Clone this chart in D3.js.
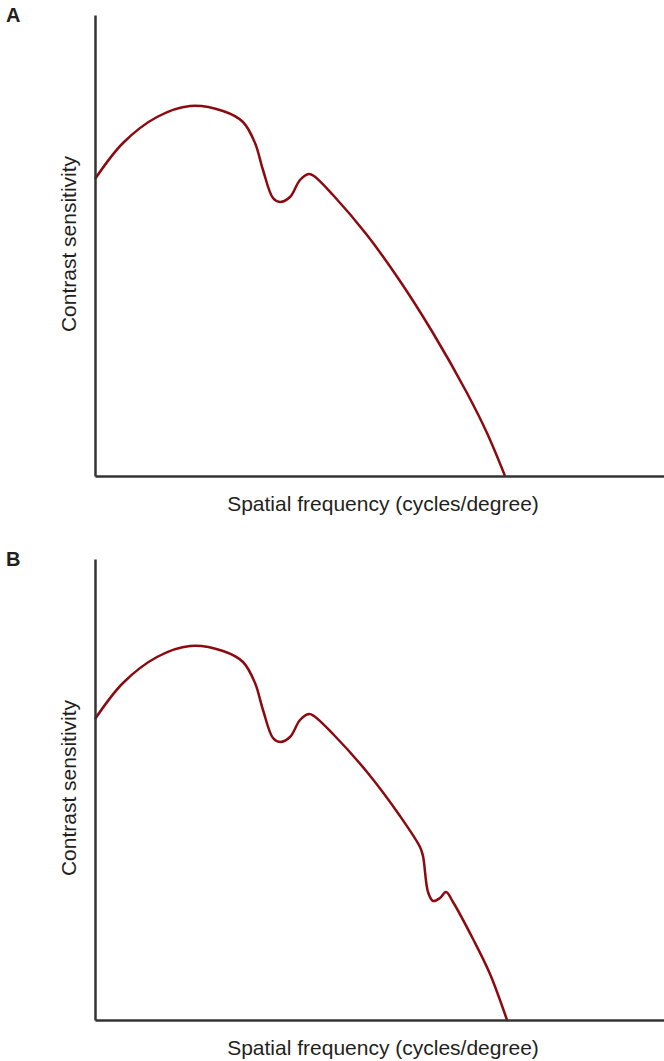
<!DOCTYPE html>
<html>
<head>
<meta charset="utf-8">
<script src="https://cdn.jsdelivr.net/npm/d3@7"></script>
<style>
	body { margin: 0; background: #fff; }
	svg { display: block; }
	text { font-family: "Liberation Sans", Arial, sans-serif; fill: #231f20; }
</style>
</head>
<body>
<svg id="chart" width="664" height="1061"></svg>
<script>
// curve values (x: frequency units, y: sensitivity units)
var freqA = [0, 28, 62, 95, 128, 148, 160, 168, 178, 185, 195, 205, 214, 219, 238, 272, 305, 338, 372, 392, 410];
var sensA = [297, 333, 359, 370, 365, 354, 333, 306, 278, 274, 279, 296, 302, 300, 281, 241, 195, 143, 83, 43, 0];

var freqB = [0, 28, 62, 95, 128, 148, 160, 168, 178, 185, 195, 205, 214, 219, 238, 272, 305, 325, 328, 333, 338, 345, 351, 358, 378, 395, 412];
var sensB = [301, 337, 363, 374, 369, 358, 337, 310, 282, 278, 283, 300, 306, 304, 286, 248, 204, 173, 164, 128, 119, 122, 128, 118, 81, 46, 0];

var panelLabels = ["A", "B"];
var xLabel = "Spatial frequency (cycles/degree)";
var yLabel = "Contrast sensitivity";

var Chart = {
	margin: { left: 95, right: 0 },
	width: 664,
	panelTop: [15, 559],
	panelHeight: 461,
	xDomain: [0, 569],
	yDomain: [0, 461],

	drawPanel: function(index, freq, sens) {
		var self = this;
		var svg = d3.select("#chart");
		var top = self.panelTop[index];
		var bottom = top + self.panelHeight;

		var x = d3.scaleLinear()
			.domain(self.xDomain)
			.range([self.margin.left, self.width - self.margin.right]);
		var y = d3.scaleLinear()
			.domain(self.yDomain)
			.range([bottom, top]);

		var g = svg.append("g").attr("class", "panel");

		g.append("text")
			.attr("x", 6)
			.attr("y", top + 7)
			.attr("font-size", 20)
			.style("font-weight", "bold")
			.text(panelLabels[index]);

		var points = freq.map(function(d, i) { return [d, sens[i]]; });
		var line = d3.line()
			.x(function(d) { return x(d[0]); })
			.y(function(d) { return y(d[1]); })
			.curve(d3.curveCatmullRom.alpha(0.5));

		g.append("path")
			.datum(points)
			.attr("d", line)
			.attr("fill", "none")
			.attr("stroke", "#8c0a0f")
			.attr("stroke-width", 2.5)
			.attr("stroke-linejoin", "round");

		g.append("g")
			.attr("transform", "translate(0," + bottom + ")")
			.call(d3.axisBottom(x).tickValues([]).tickSizeOuter(0));
		g.append("g")
			.attr("transform", "translate(" + self.margin.left + ",0)")
			.call(d3.axisLeft(y).tickValues([]).tickSizeOuter(0));
		g.selectAll(".domain")
			.attr("stroke", "#333")
			.attr("stroke-width", 2.5);

		g.append("text")
			.attr("x", 383)
			.attr("y", bottom + 35)
			.attr("font-size", 21)
			.style("text-anchor", "middle")
			.text(xLabel);

		g.append("text")
			.attr("transform", "translate(75.5," + (top + 229) + ") rotate(-90)")
			.attr("font-size", 21)
			.style("text-anchor", "middle")
			.text(yLabel);
	}
};

Chart.drawPanel(0, freqA, sensA);
Chart.drawPanel(1, freqB, sensB);
</script>
</body>
</html>
